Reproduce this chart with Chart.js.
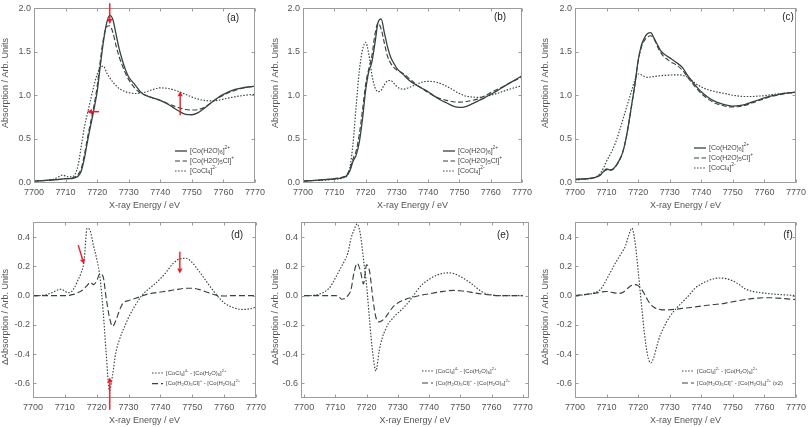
<!DOCTYPE html>
<html><head><meta charset="utf-8">
<script src="https://cdn.jsdelivr.net/npm/chart.js@4/dist/chart.umd.min.js"></script>
<style>
html,body{margin:0;padding:0;background:#fff;}
#wrap{position:relative;width:810px;height:427px;overflow:hidden;background:#fff;}
#wrap canvas{position:absolute;}
</style></head><body><div id="wrap"></div>
<script>
// ---------- data ----------
const energy = [7700,7702,7704,7706,7708, 7709,7710,7711,7712,
  7713,7714,7715,7716,7717,7718,7719,7720,
  7721,7722,7723,7724,7725,7726,7727,7728,7729,7730,
  7732,7734,7736,7738,7740,7742,7744,7746,7748,7750,7752,7754,7756,7758,7760,7762,7764,7766,7768,7770];
const xTicks = [7700,7710,7720,7730,7740,7750,7760,7770];
const yTicksAbs = [0,0.5,1.0,1.5,2.0];
const yTicksDiff = [-0.6,-0.4,-0.2,0,0.2,0.4];

// (a)
const aHexa = [0.01,0.015,0.02,0.025,0.03, 0.035,0.04,0.04,0.04,
  0.05,0.07,0.13,0.28,0.48,0.66,0.84,1.04,
  1.34,1.62,1.83,1.92,1.87,1.70,1.53,1.40,1.29,1.21,
  1.12,1.03,0.99,0.965,0.94,0.905,0.86,0.815,0.78,0.775,0.80,0.85,0.91,0.965,1.01,1.045,1.07,1.085,1.095,1.105];
const aChloro = [0.01,0.015,0.02,0.025,0.03, 0.035,0.04,0.04,0.045,
  0.06,0.09,0.16,0.32,0.52,0.70,0.88,1.10,
  1.40,1.65,1.79,1.80,1.72,1.57,1.44,1.34,1.25,1.18,
  1.08,1.02,0.99,0.965,0.94,0.91,0.88,0.855,0.835,0.83,0.835,0.86,0.91,0.96,1.00,1.035,1.06,1.08,1.095,1.10];
const aTetra = [0.01,0.015,0.02,0.03,0.065, 0.08,0.07,0.06,0.06,
  0.09,0.20,0.42,0.64,0.80,0.96,1.11,1.24,
  1.32,1.335,1.26,1.20,1.15,1.11,1.075,1.055,1.04,1.03,
  1.02,1.025,1.045,1.07,1.085,1.08,1.065,1.04,1.01,0.98,0.955,0.94,0.935,0.94,0.955,0.97,0.985,0.995,1.005,1.01];
// (b)
const bHexa = [0.01,0.015,0.02,0.025,0.03, 0.032,0.035,0.04,0.045,
  0.055,0.075,0.13,0.24,0.31,0.46,0.72,1.05,
  1.27,1.38,1.60,1.84,1.88,1.72,1.56,1.44,1.37,1.31,
  1.24,1.17,1.12,1.08,1.04,0.99,0.945,0.91,0.875,0.86,0.87,0.90,0.935,0.97,1.01,1.05,1.095,1.14,1.18,1.225];
const bChloro = [0.01,0.015,0.02,0.025,0.03, 0.035,0.04,0.045,0.05,
  0.06,0.085,0.15,0.27,0.36,0.55,0.82,1.12,
  1.30,1.45,1.70,1.83,1.76,1.60,1.45,1.37,1.32,1.29,
  1.25,1.19,1.13,1.08,1.03,0.99,0.96,0.94,0.925,0.92,0.925,0.94,0.96,0.99,1.03,1.065,1.10,1.14,1.175,1.21];
const bTetra = [0.01,0.015,0.02,0.02,0.025, 0.03,0.03,0.035,0.04,
  0.05,0.07,0.17,0.45,0.88,1.28,1.52,1.61,
  1.48,1.24,1.09,1.04,1.06,1.12,1.165,1.17,1.14,1.10,
  1.07,1.09,1.12,1.15,1.16,1.155,1.135,1.10,1.06,1.02,0.99,0.98,0.975,0.985,1.0,1.02,1.045,1.07,1.09,1.11];
// (c)
const cHexa = [0.03,0.035,0.04,0.05,0.08, 0.12,0.15,0.14,0.15,
  0.19,0.25,0.33,0.47,0.67,0.90,1.13,1.40,
  1.57,1.66,1.71,1.72,1.66,1.59,1.52,1.48,1.455,1.43,
  1.38,1.32,1.21,1.12,1.04,0.98,0.935,0.905,0.885,0.875,0.88,0.895,0.92,0.945,0.97,0.99,1.005,1.02,1.03,1.035];
const cChloro = [0.03,0.035,0.04,0.05,0.08, 0.12,0.14,0.135,0.145,
  0.185,0.245,0.33,0.47,0.67,0.90,1.13,1.39,
  1.55,1.63,1.67,1.685,1.65,1.57,1.50,1.45,1.42,1.39,
  1.35,1.29,1.19,1.10,1.02,0.96,0.915,0.89,0.87,0.865,0.87,0.885,0.91,0.935,0.96,0.985,1.0,1.015,1.025,1.03];
const cTetra = [0.02,0.03,0.035,0.05,0.10, 0.16,0.24,0.31,0.38,
  0.47,0.58,0.70,0.82,0.94,1.06,1.18,1.245,
  1.235,1.215,1.205,1.21,1.215,1.22,1.225,1.228,1.23,1.232,
  1.235,1.23,1.20,1.14,1.095,1.065,1.045,1.03,1.015,1.0,0.99,0.985,0.985,0.99,0.995,1.005,1.015,1.02,1.03,1.035];
// (d)
const dTetra = [0.0,0.0,0.005,0.02,0.04, 0.043,0.03,0.02,0.025,
  0.055,0.10,0.15,0.23,0.46,0.44,0.34,0.25,
  0.13,-0.10,-0.40,-0.65,-0.54,-0.39,-0.31,-0.25,-0.20,-0.15,
  -0.07,-0.005,0.04,0.075,0.115,0.165,0.22,0.25,0.255,0.225,0.17,0.11,0.05,-0.005,-0.05,-0.075,-0.09,-0.095,-0.09,-0.08];
const dChloro = [0,0,0,0,0, 0,0,0,0.005,
  0.01,0.02,0.03,0.045,0.07,0.09,0.075,0.10,
  0.15,0.13,-0.02,-0.15,-0.21,-0.17,-0.11,-0.06,-0.04,-0.035,
  -0.02,-0.005,0.01,0.018,0.024,0.03,0.038,0.044,0.05,0.05,0.042,0.028,0.012,0.0,-0.003,0,0,0,0,0];
// (e)
const eTetra = [0.0,0.0,0.005,0.02,0.05, 0.08,0.12,0.16,0.20,
  0.24,0.29,0.39,0.45,0.49,0.42,0.25,0.07,
  -0.18,-0.40,-0.515,-0.38,-0.29,-0.235,-0.19,-0.165,-0.14,-0.12,
  -0.08,-0.03,0.03,0.08,0.11,0.135,0.15,0.155,0.15,0.13,0.105,0.075,0.04,0.015,0.005,0,0,0,0,0];
const eChloro = [0,0,0,0,0, 0,0,-0.005,-0.025,
  -0.02,0.0,0.04,0.16,0.22,0.17,0.08,0.21,
  0.16,-0.02,-0.15,-0.18,-0.17,-0.15,-0.12,-0.09,-0.065,-0.05,
  -0.03,-0.015,-0.005,0.005,0.012,0.02,0.027,0.033,0.035,0.033,0.028,0.02,0.013,0.007,0.003,0,0,0,0,0];
// (f)
const fTetra = [0.0,0.003,0.008,0.018,0.04, 0.07,0.11,0.15,0.19,
  0.23,0.265,0.30,0.34,0.41,0.46,0.37,0.17,
  -0.05,-0.26,-0.41,-0.46,-0.42,-0.34,-0.27,-0.225,-0.18,-0.145,
  -0.09,-0.045,0.0,0.05,0.08,0.10,0.115,0.12,0.115,0.10,0.075,0.045,0.03,0.022,0.016,0.012,0.008,0.005,0.003,0.0];
const fChloro = [0.0,0.005,0.01,0.015,0.022, 0.027,0.028,0.025,0.02,
  0.017,0.015,0.02,0.035,0.055,0.07,0.075,0.068,
  0.045,0.01,-0.03,-0.06,-0.08,-0.09,-0.095,-0.098,-0.098,-0.097,
  -0.093,-0.088,-0.083,-0.078,-0.072,-0.066,-0.061,-0.057,-0.05,-0.042,-0.034,-0.027,-0.021,-0.017,-0.015,-0.015,-0.017,-0.02,-0.024,-0.028];

const topLegend = ['[Co(H2O)_{6}]^{2+}', '[Co(H2O)_{5}Cl]^{+}', '[CoCl_{4}]^{2-}'];
const dLegend = ['[CoCl_{4}]^{4-} - [Co(H_{2}O)_{6}]^{2+}', '[Co(H_{2}O)_{5}Cl]^{+} - [Co(H_{2}O)_{6}]^{2+}'];
const fLegend = ['[CoCl_{4}]^{2-} - [Co(H_{2}O)_{6}]^{2+}', '[Co(H_{2}O)_{5}Cl]^{+} - [Co(H_{2}O)_{6}]^{2+} (x2)'];

// ---------- styling ----------
const FONT = "'Liberation Sans', Arial, sans-serif";
const INK = '#374242';
const TXT = '#555';
const SOLID = {dash: [], width: 1.3};
const DASH = {dash: [5, 2.5], width: 1.15};
const DOT = {dash: [1.5, 1.6], width: 1.15};
const DASH2 = {dash: [6, 3], width: 1.15};

function richText(ctx, s, x, y, size) {
  const re = /([_^])\{([^}]*)\}|([^_^]+)/g;
  let m, cx = x;
  while ((m = re.exec(s))) {
    if (m[3] !== undefined) {
      ctx.font = size + 'px ' + FONT;
      ctx.fillText(m[3], cx, y);
      cx += ctx.measureText(m[3]).width;
    } else {
      const sz = size * 0.7;
      ctx.font = sz + 'px ' + FONT;
      const dy = m[1] === '_' ? size * 0.28 : -size * 0.42;
      ctx.fillText(m[2], cx, y + dy);
      cx += ctx.measureText(m[2]).width;
    }
  }
}

const deco = {
  id: 'deco',
  afterDraw(chart, args, o) {
    const {ctx, chartArea: {left, top, right, bottom}, scales: {x, y}} = chart;
    ctx.save();
    ctx.strokeStyle = '#9c9c9c'; ctx.lineWidth = 1; ctx.setLineDash([]);
    const L = Math.round(left) + 0.5, T = Math.round(top) + 0.5, R = Math.round(right) - 0.5, B = Math.round(bottom) - 0.5;
    ctx.strokeRect(L, T, R - L, B - T);
    ctx.beginPath();
    xTicks.forEach(v => { const p = Math.round(x.getPixelForValue(v)) + 0.5; ctx.moveTo(p, B); ctx.lineTo(p, B - 3); ctx.moveTo(p, T); ctx.lineTo(p, T + 3); });
    o.yTicks.forEach(v => { const p = Math.round(y.getPixelForValue(v)) + 0.5; ctx.moveTo(L, p); ctx.lineTo(L + 3, p); ctx.moveTo(R, p); ctx.lineTo(R - 3, p); });
    ctx.stroke();
    ctx.fillStyle = TXT; ctx.font = '9px ' + FONT; ctx.textAlign = 'center'; ctx.textBaseline = 'middle';
    ctx.save(); ctx.translate(o.yTitle.x, o.yTitle.y); ctx.rotate(-Math.PI / 2); ctx.fillText(o.yTitle.text, 0, 0); ctx.restore();
    ctx.fillStyle = '#1e1e1e'; ctx.font = '10px ' + FONT; ctx.fillText(o.label.text, o.label.x, o.label.y);
    ctx.textAlign = 'left'; ctx.fillStyle = '#444';
    o.legend.items.forEach((it, i) => {
      const yy = o.legend.y0 + i * o.legend.dy;
      ctx.strokeStyle = INK; ctx.lineWidth = it.st.width; ctx.setLineDash(it.st.dash);
      ctx.beginPath(); ctx.moveTo(o.legend.x0, yy); ctx.lineTo(o.legend.x1, yy); ctx.stroke();
      richText(ctx, it.text, o.legend.tx, yy, o.legend.size);
    });
    ctx.setLineDash([]);
    (o.arrows || []).forEach(a => {
      const x1 = x.getPixelForValue(a[0]), y1 = y.getPixelForValue(a[1]);
      const x2 = x.getPixelForValue(a[2]), y2 = y.getPixelForValue(a[3]);
      const ang = Math.atan2(y2 - y1, x2 - x1), hl = 5, hw = 2.6;
      const bx = x2 - hl * Math.cos(ang), by = y2 - hl * Math.sin(ang);
      ctx.strokeStyle = '#ee1c24'; ctx.fillStyle = '#ee1c24'; ctx.lineWidth = 1.4;
      ctx.beginPath(); ctx.moveTo(x1, y1); ctx.lineTo(bx, by); ctx.stroke();
      ctx.beginPath(); ctx.moveTo(x2, y2);
      ctx.lineTo(bx + hw * Math.sin(ang), by - hw * Math.cos(ang));
      ctx.lineTo(bx - hw * Math.sin(ang), by + hw * Math.cos(ang));
      ctx.closePath(); ctx.fill();
    });
    ctx.restore();
  }
};

function ds(arr, st) {
  return {data: energy.map((e, i) => ({x: e, y: arr[i]})), borderColor: INK, borderWidth: st.width,
    borderDash: st.dash, pointRadius: 0, cubicInterpolationMode: 'monotone', fill: false};
}

const panels = [
  {left: 0, top: 0, w: 270, h: 214, area: {l: 34, t: 5, r: 255, b: 183}, xr: [7700, 7770], yr: [-0.011, 2.0], yTicks: yTicksAbs,
   series: [[aHexa, SOLID], [aChloro, DASH], [aTetra, DOT]], legendText: topLegend,
   legend: {x0: 175, x1: 187, tx: 190, y0: 151, dy: 10, size: 7}, label: {text: '(a)', x: 233, y: 18},
   yTitle: {text: 'Absorption / Arb. Units', x: 6, y: 83}, xpad: 3,
   arrows: [[7724, 2.06, 7724, 1.82], [7720.6, 0.81, 7716.8, 0.81], [7746.3, 0.77, 7746.3, 1.045]]},
  {left: 270, top: 0, w: 270, h: 214, area: {l: 33, t: 5, r: 252, b: 183}, xr: [7700, 7770], yr: [-0.011, 2.0], yTicks: yTicksAbs,
   series: [[bHexa, SOLID], [bChloro, DASH], [bTetra, DOT]], legendText: topLegend,
   legend: {x0: 173, x1: 185, tx: 188, y0: 151, dy: 10, size: 7}, label: {text: '(b)', x: 230, y: 17},
   yTitle: {text: 'Absorption / Arb. Units', x: 6, y: 83}, xpad: 3},
  {left: 540, top: 0, w: 270, h: 214, area: {l: 35, t: 5, r: 259, b: 183}, xr: [7700, 7770], yr: [-0.011, 2.0], yTicks: yTicksAbs,
   series: [[cHexa, SOLID], [cChloro, DASH], [cTetra, DOT]], legendText: topLegend,
   legend: {x0: 154, x1: 166, tx: 169, y0: 148, dy: 10, size: 7}, label: {text: '(c)', x: 248, y: 17},
   yTitle: {text: 'Absorption / Arb. Units', x: 6, y: 83}, xpad: 3},
  {left: 0, top: 214, w: 270, h: 213, area: {l: 33, t: 5, r: 256, b: 184}, xr: [7700, 7770], yr: [-0.7, 0.5], yTicks: yTicksDiff,
   series: [[dTetra, DOT], [dChloro, DASH2]], legendText: dLegend,
   legend: {x0: 152, x1: 163, tx: 166, y0: 159, dy: 10.6, size: 5.9}, label: {text: '(d)', x: 237, y: 21},
   yTitle: {text: '\u0394Absorption / Arb. Units', x: 6, y: 103}, xpad: 1,
   arrows: [[7714.2, 0.345, 7716, 0.215], [7746.1, 0.30, 7746.1, 0.15], [7724.1, -0.78, 7724.1, -0.56]]},
  {left: 270, top: 214, w: 270, h: 213, area: {l: 31, t: 5, r: 259, b: 184}, xr: [7699, 7772], yr: [-0.7, 0.5], yTicks: yTicksDiff,
   series: [[eTetra, DOT], [eChloro, DASH2]], legendText: dLegend,
   legend: {x0: 152, x1: 163, tx: 166, y0: 157, dy: 12, size: 5.9}, label: {text: '(e)', x: 233, y: 21},
   yTitle: {text: '\u0394Absorption / Arb. Units', x: 6, y: 103}, xpad: 1},
  {left: 540, top: 214, w: 270, h: 213, area: {l: 35, t: 5, r: 259, b: 184}, xr: [7700, 7770], yr: [-0.7, 0.5], yTicks: yTicksDiff,
   series: [[fTetra, DOT], [fChloro, DASH2]], legendText: fLegend,
   legend: {x0: 142, x1: 154, tx: 157, y0: 157, dy: 12, size: 5.9}, label: {text: '(f)', x: 248, y: 21},
   yTitle: {text: '\u0394Absorption / Arb. Units', x: 6, y: 103}, xpad: 1}
];

const wrap = document.getElementById('wrap');
panels.forEach(p => {
  const cv = document.createElement('canvas');
  cv.width = p.w; cv.height = p.h;
  cv.style.left = p.left + 'px'; cv.style.top = p.top + 'px';
  cv.style.width = p.w + 'px'; cv.style.height = p.h + 'px';
  wrap.appendChild(cv);
  const tickFont = {size: 9, family: FONT};
  new Chart(cv, {
    type: 'line',
    data: {datasets: p.series.map(s => ds(s[0], s[1]))},
    plugins: [deco],
    options: {
      responsive: false, animation: false, devicePixelRatio: 1,
      layout: {padding: {left: 0, top: p.area.t, right: p.w - p.area.r, bottom: 0}},
      plugins: {legend: {display: false}, tooltip: {enabled: false},
        deco: {yTicks: p.yTicks, yTitle: p.yTitle, label: p.label,
          legend: Object.assign({}, p.legend, {items: p.series.map((s, i) => ({st: s[1], text: p.legendText[i]}))}),
          arrows: p.arrows}},
      scales: {
        x: {type: 'linear', min: p.xr[0], max: p.xr[1],
          afterBuildTicks: s => { s.ticks = xTicks.map(v => ({value: v})); },
          afterFit: s => { s.height = p.h - p.area.b; },
          grid: {display: false, drawTicks: false}, border: {display: false},
          ticks: {font: tickFont, color: TXT, padding: 4, maxRotation: 0, autoSkip: false, callback: v => String(v)},
          title: {display: true, text: 'X-ray Energy / eV', color: TXT, font: {size: 9, family: FONT}, padding: {top: 0, bottom: p.xpad}}},
        y: {type: 'linear', min: p.yr[0], max: p.yr[1],
          afterBuildTicks: s => { s.ticks = p.yTicks.map(v => ({value: v})); },
          afterFit: s => { s.width = p.area.l; },
          grid: {display: false, drawTicks: false}, border: {display: false},
          ticks: {font: tickFont, color: TXT, padding: 3, autoSkip: false, callback: v => v.toFixed(1)}}
      }
    }
  });
});
</script></body></html>
